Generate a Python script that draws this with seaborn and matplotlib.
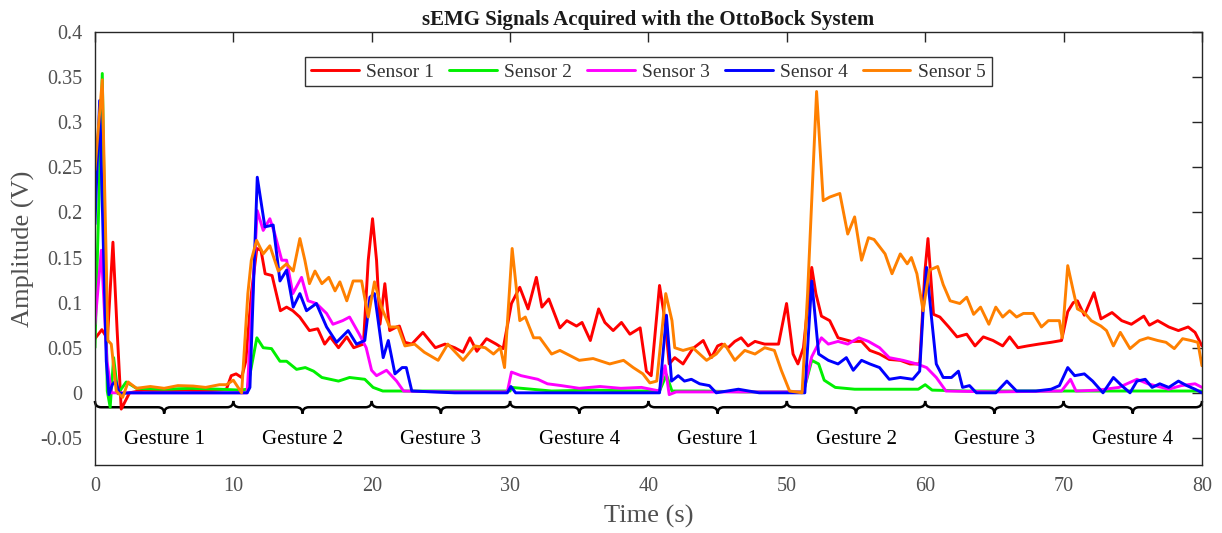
import matplotlib
matplotlib.use("Agg")
import matplotlib.pyplot as plt
from matplotlib.path import Path
from matplotlib.patches import PathPatch
import seaborn as sns
import pandas as pd

# (time in s, amplitude in V) samples for each sEMG channel
SENSOR_1 = [
    (0, 0.06), (0.5, 0.07), (0.9, 0.06), (1.3, 0.167), (1.6, 0.07), (1.9, -0.018),
    (2.5, 0.0), (3.5, 0.003), (5, 0.002), (6.5, 0.003), (8, 0.002), (9.5, 0.004),
    (9.85, 0.019), (10.2, 0.021), (10.6, 0.017), (10.9, 0.035), (11.3, 0.11),
    (11.7, 0.16), (12.0, 0.158), (12.3, 0.132), (12.8, 0.13), (13.4, 0.091),
    (13.85, 0.095), (14.3, 0.091), (14.8, 0.084), (15.5, 0.069), (16.1, 0.071),
    (16.6, 0.054), (17.0, 0.062), (17.6, 0.05), (18.2, 0.062), (18.7, 0.05),
    (19.4, 0.054), (19.75, 0.147), (20.06, 0.193), (20.35, 0.147), (20.6, 0.076),
    (20.95, 0.121), (21.3, 0.069), (21.8, 0.073), (22.0, 0.074), (22.4, 0.056),
    (22.9, 0.054), (23.7, 0.067), (24.6, 0.05), (25.3, 0.054), (26.0, 0.05),
    (26.6, 0.045), (27.1, 0.061), (27.6, 0.046), (28.3, 0.06), (29.0, 0.054),
    (29.5, 0.049), (30.1, 0.099), (30.7, 0.117), (31.3, 0.093), (31.9, 0.128),
    (32.3, 0.095), (32.8, 0.104), (33.6, 0.072), (34.1, 0.08), (34.8, 0.074),
    (35.2, 0.078), (35.8, 0.058), (36.4, 0.093), (36.85, 0.078), (37.45, 0.069),
    (38.05, 0.078), (38.66, 0.065), (39.4, 0.072), (39.85, 0.024), (40.2, 0.019),
    (40.8, 0.119), (41.2, 0.08), (41.5, 0.032), (41.9, 0.039), (42.5, 0.032),
    (43.2, 0.049), (43.96, 0.058), (44.55, 0.039), (45.0, 0.052), (45.3, 0.054),
    (45.76, 0.05), (46.24, 0.057), (46.7, 0.061), (47.2, 0.052), (47.7, 0.057),
    (48.4, 0.054), (49.4, 0.054), (49.98, 0.099), (50.45, 0.043), (50.8, 0.032),
    (51.2, 0.05), (51.8, 0.139), (52.1, 0.11), (52.5, 0.085), (53.1, 0.08),
    (53.7, 0.061), (54.67, 0.057), (55.4, 0.057), (56.0, 0.047), (56.7, 0.043),
    (57.4, 0.037), (58.2, 0.036), (58.9, 0.032), (59.6, 0.032), (59.98, 0.135),
    (60.2, 0.171), (60.6, 0.087), (61.06, 0.084), (61.7, 0.073), (62.3, 0.062),
    (63.0, 0.065), (63.6, 0.052), (64.2, 0.062), (64.9, 0.058), (65.6, 0.052),
    (66.1, 0.062), (66.7, 0.05), (67.4, 0.052), (68.2, 0.054), (69.1, 0.056),
    (69.85, 0.058), (70.3, 0.09), (70.7, 0.1), (71.0, 0.102), (71.5, 0.086),
    (72.2, 0.111), (72.7, 0.082), (73.5, 0.089), (74.2, 0.08), (74.9, 0.076),
    (75.8, 0.085), (76.2, 0.075), (76.8, 0.08), (77.6, 0.073), (78.3, 0.069),
    (79.0, 0.073), (79.5, 0.067), (80.0, 0.052),
]

SENSOR_2 = [
    (0, 0.05), (0.53, 0.354), (0.89, 0.002), (1.1, -0.016), (1.35, 0.039),
    (1.66, -0.001), (2.26, 0.012), (3, 0.005), (5, 0.004), (7, 0.005), (9, 0.004),
    (10.5, 0.003), (11.0, 0.004), (11.7, 0.061), (12.16, 0.05), (12.76, 0.049),
    (13.37, 0.035), (13.85, 0.035), (14.57, 0.026), (15.2, 0.028), (15.8, 0.024),
    (16.4, 0.017), (17.0, 0.015), (17.6, 0.013), (18.4, 0.017), (19.5, 0.015),
    (20.1, 0.006), (20.8, 0.002), (22, 0.002), (25, 0.002), (28, 0.002), (30, 0.002),
    (30.1, 0.006), (33, 0.002), (36, 0.003), (39, 0.002), (40.8, 0.002), (41.3, 0.02),
    (41.7, 0.002), (44, 0.002), (47, 0.001), (50, 0.001), (51.2, 0.001),
    (51.8, 0.036), (52.3, 0.032), (52.7, 0.014), (53.5, 0.006), (54.9, 0.004),
    (57, 0.004), (59.5, 0.004), (60.0, 0.009), (60.5, 0.003), (63, 0.002),
    (66, 0.002), (70, 0.002), (75, 0.002), (80, 0.002),
]

SENSOR_3 = [
    (0, 0.076), (0.46, 0.158), (0.87, 0.035), (1.2, 0.0), (2, 0.0), (5, 0.0),
    (10, 0.0), (11.0, 0.0), (11.73, 0.202), (12.16, 0.18), (12.64, 0.193),
    (13.0, 0.176), (13.5, 0.147), (13.85, 0.147), (14.3, 0.11), (14.93, 0.128),
    (15.4, 0.102), (16.0, 0.099), (16.74, 0.088), (17.2, 0.076), (17.9, 0.08),
    (18.4, 0.084), (19.1, 0.065), (19.6, 0.05), (19.99, 0.025), (20.35, 0.019),
    (21.07, 0.025), (21.8, 0.013), (22.3, 0.002), (25, 0.001), (29.8, 0.001),
    (30.1, 0.023), (30.8, 0.019), (32.0, 0.015), (32.7, 0.01), (33.7, 0.008),
    (35, 0.005), (36.5, 0.007), (38, 0.005), (39.5, 0.006), (40.8, 0.002),
    (41.2, 0.03), (41.5, -0.002), (42, 0.001), (45, 0.001), (48, 0.001),
    (51.2, 0.001), (51.8, 0.04), (52.5, 0.061), (53.0, 0.054), (53.7, 0.057),
    (54.4, 0.054), (55.2, 0.061), (55.9, 0.057), (56.7, 0.05), (57.4, 0.039),
    (58.4, 0.036), (59.4, 0.032), (60.1, 0.028), (60.8, 0.017), (61.5, 0.002),
    (65, 0.001), (69.85, 0.002), (70.5, 0.015), (70.9, 0.002), (72.5, 0.003),
    (74.0, 0.006), (75.3, 0.015), (76.1, 0.01), (77.6, 0.004), (78.5, 0.008),
    (79.5, 0.01), (80, 0.006),
]

SENSOR_4 = [
    (0, 0.187), (0.34, 0.324), (0.82, 0.035), (1.01, -0.002), (1.25, 0.009),
    (1.49, 0.013), (1.78, -0.001), (2.5, 0.0), (5, 0.0), (10, 0.0), (11.0, 0.0),
    (11.2, 0.006), (11.73, 0.239), (12.28, 0.184), (12.88, 0.186), (13.37, 0.124),
    (13.85, 0.136), (14.33, 0.095), (14.81, 0.11), (15.29, 0.091), (16.0, 0.099),
    (16.74, 0.073), (17.46, 0.056), (18.3, 0.069), (18.9, 0.054), (19.5, 0.058),
    (19.87, 0.106), (20.2, 0.11), (20.83, 0.039), (21.2, 0.058), (21.68, 0.021),
    (22.2, 0.028), (22.5, 0.028), (22.9, 0.002), (26, 0.0), (29.8, 0.0),
    (30.06, 0.007), (30.4, 0.0), (35, 0.0), (40.5, 0.0), (40.8, 0.0), (41.3, 0.086),
    (41.67, 0.013), (42.15, 0.019), (42.6, 0.013), (43.1, 0.015), (43.7, 0.01),
    (44.4, 0.008), (44.9, 0.0), (46.5, 0.004), (48, 0.0), (51.3, 0.0),
    (51.8, 0.124), (52.3, 0.043), (53.0, 0.036), (53.7, 0.032), (54.3, 0.039),
    (54.8, 0.025), (55.4, 0.036), (56.0, 0.032), (56.7, 0.028), (57.4, 0.015),
    (58.2, 0.017), (59.1, 0.015), (59.6, 0.024), (59.85, 0.091), (60.1, 0.139),
    (60.45, 0.084), (60.8, 0.032), (61.3, 0.017), (61.9, 0.017), (62.4, 0.024),
    (62.7, 0.006), (63.2, 0.008), (63.7, 0.0), (65.1, 0.0), (65.9, 0.013),
    (66.6, 0.002), (68.0, 0.002), (69.1, 0.004), (69.7, 0.008), (70.3, 0.028),
    (70.8, 0.019), (71.5, 0.021), (72.1, 0.013), (72.85, 0.0), (73.6, 0.017),
    (74.2, 0.008), (74.8, 0.0), (75.3, 0.013), (75.9, 0.015), (76.4, 0.006),
    (76.95, 0.01), (77.6, 0.006), (78.3, 0.013), (78.9, 0.008), (79.5, 0.004),
    (80.0, 0.0),
]

SENSOR_5 = [
    (0, 0.247), (0.53, 0.347), (0.94, 0.058), (1.18, 0.054), (1.54, 0.002),
    (2.0, -0.005), (2.4, 0.012), (3, 0.005), (4, 0.007), (5, 0.005), (6, 0.008),
    (7.1, 0.0075), (8, 0.006), (9, 0.009), (9.5, 0.009), (10.0, 0.014), (10.6, 0.0),
    (11.05, 0.11), (11.3, 0.147), (11.68, 0.169), (12.16, 0.154), (12.64, 0.163),
    (13.25, 0.135), (13.85, 0.143), (14.33, 0.135), (14.81, 0.171), (15.17, 0.147),
    (15.5, 0.121), (15.9, 0.135), (16.4, 0.121), (16.9, 0.128), (17.35, 0.113),
    (17.7, 0.123), (18.2, 0.102), (18.66, 0.124), (19.27, 0.124), (19.75, 0.084),
    (20.2, 0.123), (20.7, 0.095), (21.3, 0.073), (21.9, 0.073), (22.4, 0.052),
    (23.1, 0.054), (23.8, 0.045), (24.8, 0.036), (25.5, 0.054), (26.6, 0.036),
    (27.46, 0.052), (28.2, 0.05), (28.8, 0.043), (29.3, 0.05), (29.6, 0.028),
    (30.15, 0.16), (30.7, 0.08), (31.1, 0.084), (31.7, 0.061), (32.15, 0.061),
    (33.0, 0.043), (33.6, 0.047), (35.0, 0.036), (36.0, 0.038), (37.2, 0.032),
    (38.2, 0.036), (38.9, 0.028), (39.6, 0.021), (40.1, 0.011), (40.6, 0.013),
    (41.25, 0.11), (41.7, 0.08), (41.9, 0.05), (42.5, 0.047), (43.2, 0.05),
    (44.2, 0.036), (44.9, 0.043), (45.5, 0.054), (46.24, 0.036), (46.96, 0.047),
    (47.7, 0.043), (48.4, 0.05), (49.1, 0.047), (49.6, 0.025), (50.2, 0.002),
    (51.1, 0.0), (51.5, 0.11), (52.15, 0.334), (52.63, 0.213), (53.1, 0.217),
    (53.83, 0.221), (54.4, 0.176), (54.9, 0.195), (55.4, 0.147), (55.9, 0.172),
    (56.3, 0.17), (56.7, 0.162), (57.1, 0.154), (57.6, 0.132), (58.2, 0.154),
    (58.7, 0.143), (59.0, 0.15), (59.4, 0.132), (59.85, 0.091), (60.3, 0.136),
    (60.9, 0.14), (61.3, 0.12), (61.8, 0.102), (62.5, 0.099), (63.0, 0.106),
    (63.5, 0.087), (64.0, 0.095), (64.6, 0.076), (65.1, 0.095), (65.6, 0.084),
    (66.1, 0.091), (66.6, 0.084), (67.1, 0.088), (67.8, 0.088), (68.4, 0.073),
    (68.9, 0.08), (69.7, 0.08), (69.9, 0.061), (70.3, 0.141), (70.7, 0.113),
    (71.0, 0.093), (71.5, 0.089), (72.0, 0.08), (72.7, 0.074), (73.1, 0.069),
    (73.6, 0.052), (74.1, 0.067), (74.8, 0.049), (75.5, 0.058), (76.1, 0.061),
    (76.8, 0.058), (77.4, 0.056), (78.0, 0.049), (78.6, 0.06), (79.2, 0.058),
    (79.7, 0.056), (80.0, 0.03),
]

SENSOR_NAMES = ["Sensor 1", "Sensor 2", "Sensor 3", "Sensor 4", "Sensor 5"]
SENSOR_COLORS = ["#ff0000", "#00f000", "#ff00ff", "#0000ff", "#ff8000"]

# protocol: four gestures repeated twice, 10 s each
GESTURE_EDGES = [0, 10, 20, 30, 40, 50, 60, 70, 80]
GESTURE_LABELS = ["Gesture 1", "Gesture 2", "Gesture 3", "Gesture 4",
                  "Gesture 1", "Gesture 2", "Gesture 3", "Gesture 4"]

X_TICKS = [0, 10, 20, 30, 40, 50, 60, 70, 80]
Y_TICKS = [-0.05, 0, 0.05, 0.1, 0.15, 0.2, 0.25, 0.3, 0.35, 0.4]
Y_TICK_LABELS = ["-0.05", "0", "0.05", "0.1", "0.15", "0.2", "0.25", "0.3", "0.35", "0.4"]

rows = []
for name, samples in zip(SENSOR_NAMES,
                         [SENSOR_1, SENSOR_2, SENSOR_3, SENSOR_4, SENSOR_5]):
    for t, v in samples:
        rows.append({"Time (s)": t, "Amplitude (V)": v, "sensor": name})
df = pd.DataFrame(rows)

sns.set_style("white")
plt.rcParams["font.family"] = ["Liberation Serif", "DejaVu Serif"]

fig = plt.figure(figsize=(12.22, 5.33), dpi=100)
ax = fig.add_axes([0.0777, 0.1276, 0.9059, 0.8124])

sns.lineplot(data=df, x="Time (s)", y="Amplitude (V)", hue="sensor",
             hue_order=SENSOR_NAMES, palette=SENSOR_COLORS, estimator=None,
             sort=False, linewidth=2.1, ax=ax)

ax.set_xlim(0, 80)
ax.set_ylim(-0.08, 0.4)
ax.set_xticks(X_TICKS)
ax.set_yticks(Y_TICKS)
ax.set_yticklabels(Y_TICK_LABELS)

grey = "#505050"
ax.tick_params(direction="in", length=7, width=1, top=True, right=True,
               labelsize=14.5, colors="#262626", labelcolor=grey, pad=9)
for s in ax.spines.values():
    s.set_visible(True)
    s.set_color("#262626")
    s.set_linewidth(1.0)

ax.set_xlabel("Time (s)", fontsize=19, color=grey, labelpad=6)
ax.set_ylabel("Amplitude (V)", fontsize=19, color=grey, labelpad=4)
ax.set_title("sEMG Signals Acquired with the OttoBock System", fontsize=15,
             fontweight="bold", color="#1a1a1a", pad=5)

# curly braces marking each gesture window
y_tip, y_bar, y_mid = -0.009, -0.016, -0.023
dx = 0.45
for a, b in zip(GESTURE_EDGES[:-1], GESTURE_EDGES[1:]):
    m = (a + b) / 2
    verts = [
        (a, y_tip), (a, y_bar), (a + dx, y_bar),
        (m - dx, y_bar),
        (m, y_bar), (m, y_mid),
        (m, y_bar), (m + dx, y_bar),
        (b - dx, y_bar),
        (b, y_bar), (b, y_tip),
    ]
    codes = [Path.MOVETO, Path.CURVE3, Path.CURVE3, Path.LINETO,
             Path.CURVE3, Path.CURVE3, Path.CURVE3, Path.CURVE3,
             Path.LINETO, Path.CURVE3, Path.CURVE3]
    ax.add_patch(PathPatch(Path(verts, codes), facecolor="none",
                           edgecolor="black", linewidth=1.8, clip_on=False))
    ax.text(m, -0.052, GESTURE_LABELS[GESTURE_EDGES.index(a)],
            ha="center", va="center", fontsize=15, color="black")

leg = ax.legend(loc="upper center", bbox_to_anchor=(0.5, 0.942), ncol=5,
                frameon=True, fancybox=False, edgecolor="black", fontsize=14,
                handlelength=2.45, handletextpad=0.4, columnspacing=0.75,
                borderpad=0.3, borderaxespad=0)
leg.get_frame().set_linewidth(1.0)
for txt in leg.get_texts():
    txt.set_color("#333333")
for line in leg.get_lines():
    line.set_linewidth(2.1)

fig.savefig("out.png", dpi=100)
